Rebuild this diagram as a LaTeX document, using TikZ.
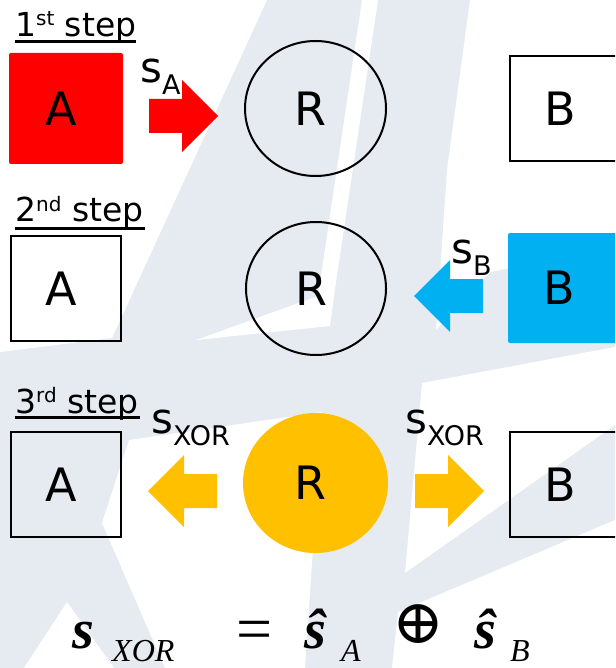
\documentclass[tikz,border=0pt]{standalone}
\usepackage{fontspec}
\setmainfont{DejaVu Sans}
\newfontfamily\eqfont{Liberation Serif}
\newfontfamily\opfont{DejaVu Serif}
\usetikzlibrary{shapes.geometric}

\definecolor{wm}{RGB}{229,235,241}
\definecolor{sendred}{RGB}{255,0,0}
\definecolor{sendblue}{RGB}{0,176,240}
\definecolor{sendgold}{RGB}{255,192,0}

\tikzset{
  party/.style={rectangle, draw=black, line width=1.8pt, inner sep=0pt,
    minimum width=110pt, minimum height=105pt,
    font=\fontsize{46}{46}\selectfont},
  relay/.style={ellipse, draw=black, line width=2pt, inner sep=0pt,
    font=\fontsize{46}{46}\selectfont},
  steptitle/.style={anchor=base west, inner sep=0pt,
    font=\fontsize{33}{33}\selectfont},
  msg/.style={anchor=base west, inner sep=0pt,
    font=\fontsize{42}{42}\selectfont},
  titlerule/.style={line width=3pt},
  eq/.style={anchor=base west, inner sep=0pt},
  bigs/.style={eq, font=\eqfont\fontsize{56}{56}\selectfont\bfseries\itshape},
  eqsub/.style={eq, font=\eqfont\fontsize{32}{32}\selectfont\itshape},
  pics/fatarrow/.style={code={
    \fill (-33,-17) -- (0,-17) -- (0,-36) -- (36,0) -- (0,36) -- (0,17) -- (-33,17) -- cycle;
  }},
}
\newcommand\supsm[2]{\raisebox{#1}{\fontsize{20}{20}\selectfont #2}}
\newcommand\subsm[1]{\raisebox{-12pt}{\fontsize{27}{27}\selectfont #1}}

\begin{document}
\begin{tikzpicture}[x=1pt, y=-1pt]
  \clip (0,0) rectangle (615,668);

  % watermark in the background
  \fill[wm] (0,0) rectangle (615,668);
  \fill[white] (0,0) -- (267,0) -- (112,338) -- (0,352) -- cycle;
  \fill[white] (362,0) -- (378,0) -- (334,296) -- (330,326) -- (196,340) -- (318,296) -- cycle;
  \fill[white] (470,0) -- (615,0) -- (615,248) -- (490,272) -- (436,330) -- (447,170) -- cycle;
  \fill[white] (422,383) -- (615,347) -- (615,425) -- (405,573) -- cycle;
  \fill[white] (398,612) -- (615,520) -- (615,668) -- (392,668) -- cycle;
  \fill[white] (129,440) -- (322,412) -- (305,668) -- (165,668) -- (102,523) -- cycle;
  \fill[white] (67,602) -- (114,668) -- (24,668) -- cycle;

  % step titles
  \node[steptitle] (t1) at (15,37) {1\supsm{11pt}{st} step};
  \node[steptitle] (t2) at (15,222) {2\supsm{10pt}{nd} step};
  \node[steptitle] (t3) at (15,413) {3\supsm{11pt}{rd} step};
  \draw[titlerule] (15,42) -- (136,42);
  \draw[titlerule] (15,228) -- (145,228);
  \draw[titlerule] (15,417) -- (140,417);

  % step 1: A sends s_A to R
  \node[party, draw=none, fill=sendred, rounded corners=2pt,
        minimum width=114pt, minimum height=111pt] (a1) at (66,108.5) {A\kern10pt};
  \node[relay, minimum width=141pt, minimum height=135pt] (r1) at (315.5,108.5) {R\kern10pt};
  \node[party] (b1) at (565,108.5) {B\kern10pt};
  \pic[color=sendred] at (182,116) {fatarrow};
  \node[msg] (m1) at (140,83) {s\subsm{A}};

  % step 2: B sends s_B to R
  \node[party] (a2) at (66,288.5) {A\kern10pt};
  \node[relay, minimum width=140pt, minimum height=133pt] (r2) at (316,288.5) {R\kern10pt};
  \node[party, draw=none, fill=sendblue, rounded corners=2pt,
        minimum width=112pt, minimum height=110pt] (b2) at (564,288) {B\kern10pt};
  \pic[color=sendblue, xscale=-1] at (450,296) {fatarrow};
  \node[msg] (m2) at (451,263) {s\subsm{B}};

  % step 3: R broadcasts s_XOR to A and B
  \node[party] (a3) at (66,484.5) {A\kern10pt};
  \node[relay, draw=none, fill=sendgold, minimum width=145pt, minimum height=140pt] (r3) at (315.5,483) {R\kern10pt};
  \node[party] (b3) at (565,484.5) {B\kern10pt};
  \pic[color=sendgold, xscale=-1] at (184,491) {fatarrow};
  \pic[color=sendgold] at (448,491) {fatarrow};
  \node[msg] (m3) at (151,433) {s\subsm{XOR}};
  \node[msg] (m4) at (405,433) {s\subsm{XOR}};

  % relation between the broadcast and the two messages
  \node[bigs] (e1) at (72,648) {s};
  \node[eqsub] (e2) at (112,661) {XOR};
  \node[eq, font=\eqfont\fontsize{64}{64}\selectfont] (e3) at (236,650) {=};
  \node[bigs] (e4) at (304,648) {\^{s}};
  \node[eqsub] (e5) at (341,661) {A};
  \node[inner sep=0pt, font=\opfont\fontsize{62}{62}\selectfont] (e6) at (418.5,624) {⊕};
  \node[bigs] (e7) at (474,648) {\^{s}};
  \node[eqsub] (e8) at (510,661) {B};
\end{tikzpicture}
\end{document}
